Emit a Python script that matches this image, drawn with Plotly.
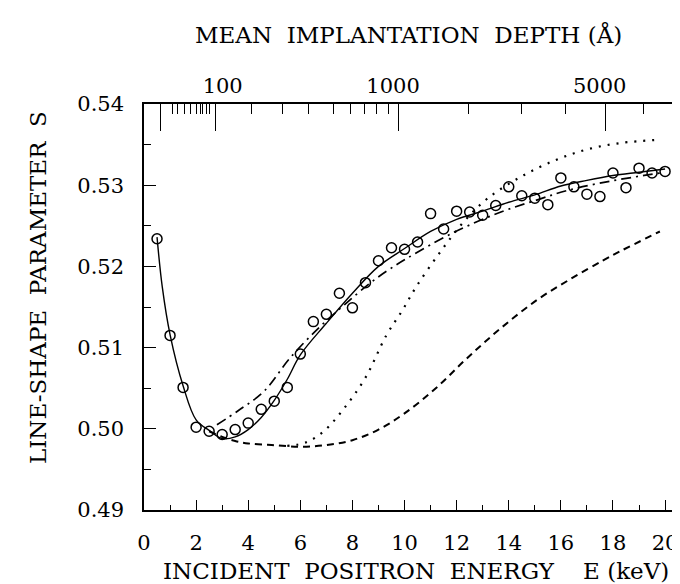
import plotly.graph_objects as go

# ---- data ----
meas_E = [0.5, 1.0, 1.5, 2.0, 2.5, 3.0, 3.5, 4.0, 4.5, 5.0, 5.5, 6.0, 6.5, 7.0, 7.5, 8.0,
          8.5, 9.0, 9.5, 10.0, 10.5, 11.0, 11.5, 12.0, 12.5, 13.0, 13.5, 14.0, 14.5, 15.0,
          15.5, 16.0, 16.5, 17.0, 17.5, 18.0, 18.5, 19.0, 19.5, 20.0]
meas_S = [0.5234, 0.5115, 0.5051, 0.5002, 0.4997, 0.4993, 0.4999, 0.5007, 0.5024, 0.5034,
          0.5051, 0.5092, 0.5132, 0.5141, 0.5167, 0.5149, 0.5180, 0.5207, 0.5223, 0.5221,
          0.5230, 0.5265, 0.5246, 0.5268, 0.5267, 0.5263, 0.5275, 0.5298, 0.5287, 0.5284,
          0.5276, 0.5309, 0.5298, 0.5289, 0.5286, 0.5315, 0.5297, 0.5321, 0.5315, 0.5317]

fit_E = [0.5, 0.7, 1.0, 1.5, 2.0, 2.5, 3.0, 3.5, 4.0, 4.5, 5.0, 5.5, 6.0, 7.0, 8.0, 9.0,
         10.0, 11.0, 12.0, 13.0, 14.0, 15.0, 16.0, 17.0, 18.0, 19.0, 20.0]
fit_S = [0.5236, 0.5175, 0.5116, 0.5053, 0.5011, 0.4998, 0.4988, 0.4990, 0.4999, 0.5014,
         0.5035, 0.5061, 0.5091, 0.5130, 0.5167, 0.5200, 0.5222, 0.5243, 0.5258, 0.5268,
         0.5279, 0.5288, 0.5299, 0.5306, 0.5312, 0.5316, 0.5320]

dashdot_E = [2.8, 3.6, 4.6, 5.6, 6.7, 7.7, 8.7, 9.4, 10.1, 11.9, 13.7, 15.1, 16.3, 17.9, 19.2, 19.8]
dashdot_S = [0.5005, 0.5022, 0.5046, 0.5087, 0.5124, 0.5153, 0.5180, 0.5196, 0.5210, 0.5242,
             0.5267, 0.5282, 0.5294, 0.5305, 0.5312, 0.5315]

dashed_E = [2.5, 3.0, 3.5, 4.0, 4.9, 6.0, 7.0, 8.0, 9.0, 10.0, 11.2, 12.4, 13.7, 15.1, 16.4,
            17.6, 18.3, 19.8]
dashed_S = [0.4997, 0.4990, 0.4985, 0.4982, 0.4980, 0.4978, 0.4980, 0.4986, 0.4999, 0.5019,
            0.5050, 0.5087, 0.5124, 0.5159, 0.5185, 0.5207, 0.5219, 0.5243]

dotted_E = [5.5, 6.2, 6.9, 7.7, 8.5, 9.3, 9.9, 10.45, 11.4, 12.3, 13.2, 14.5, 15.8, 17.0, 18.3, 19.8]
dotted_S = [0.4979, 0.4983, 0.4997, 0.5026, 0.5063, 0.5115, 0.5145, 0.5175, 0.5219, 0.5256,
            0.5284, 0.5311, 0.5331, 0.5344, 0.5352, 0.5356]

# top axis (mean implantation depth) tick positions, expressed in keV on the bottom scale
top_long_E = [0.65, 2.73, 9.75, 17.7]
top_short_E = [1.11, 1.27, 1.57, 1.77, 2.0, 2.15, 2.26, 2.38, 2.53, 4.11, 5.3, 6.33, 7.26,
               7.91, 8.48, 8.94, 9.37, 12.44, 14.47, 16.16, 19.16]
top_label_text = ["100", "1000", "5000"]
top_label_E = [3.02, 9.56, 17.49]

y_ticks = [0.49, 0.50, 0.51, 0.52, 0.53, 0.54]

X_RANGE = [0, 20.88]
Y_RANGE = [0.49, 0.54]
FONT = "DejaVu Serif"

fig = go.Figure()

common = dict(mode="lines", showlegend=False, hoverinfo="skip", line_shape="spline")
fig.add_trace(go.Scatter(x=fit_E, y=fit_S, line=dict(color="black", width=1.4), **common))
fig.add_trace(go.Scatter(x=dashdot_E, y=dashdot_S,
                         line=dict(color="black", width=1.7, dash="10px,5px,2px,5px"), **common))
fig.add_trace(go.Scatter(x=dashed_E, y=dashed_S,
                         line=dict(color="black", width=2.0, dash="7px,5px"), **common))
fig.add_trace(go.Scatter(x=dotted_E, y=dotted_S,
                         line=dict(color="black", width=2.2, dash="2px,7px"), **common))
fig.add_trace(go.Scatter(x=meas_E, y=meas_S, mode="markers", showlegend=False,
                         marker=dict(symbol="circle-open", size=10, color="black",
                                     line=dict(width=1.5, color="black"))))

# dummy traces so the overlaying top axes are drawn
for ax in ["x2", "x3", "x4"]:
    fig.add_trace(go.Scatter(x=[None], y=[None], xaxis=ax, yaxis="y",
                             showlegend=False, hoverinfo="skip"))

tickfont = dict(family=FONT, size=21, color="black")
titlefont = dict(family=FONT, size=23, color="black")

fig.update_layout(
    width=680, height=584,
    margin=dict(l=136, r=0, t=96, b=82),
    paper_bgcolor="white", plot_bgcolor="white",
    xaxis=dict(range=X_RANGE, showgrid=False, zeroline=False, showline=True,
               linecolor="black", linewidth=1.5, ticks="inside", ticklen=10,
               tickwidth=1.3, tickcolor="black", dtick=2, tick0=0,
               tickfont=tickfont, ticklabelstandoff=13,
               minor=dict(dtick=1, ticks="inside", ticklen=5, tickwidth=1.2,
                          tickcolor="black", showgrid=False)),
    yaxis=dict(range=Y_RANGE, showgrid=False, zeroline=False, showline=True,
               linecolor="black", linewidth=1.5, ticks="inside", ticklen=12,
               tickwidth=1.3, tickcolor="black", tickvals=y_ticks, tickformat=".2f",
               tickfont=tickfont, ticklabelstandoff=14,
               minor=dict(dtick=0.005, ticks="inside", ticklen=7, tickwidth=1.2,
                          tickcolor="black", showgrid=False)),
    xaxis2=dict(range=X_RANGE, overlaying="x", side="top", anchor="y",
                showgrid=False, zeroline=False, showline=True, linecolor="black",
                linewidth=2, ticks="inside", ticklen=27, tickwidth=1.4,
                tickcolor="black", tickvals=top_long_E, showticklabels=False),
    xaxis3=dict(range=X_RANGE, overlaying="x", side="top", anchor="y",
                showgrid=False, zeroline=False, showline=False,
                ticks="inside", ticklen=10, tickwidth=1.2, tickcolor="black",
                tickvals=top_short_E, showticklabels=False),
    xaxis4=dict(range=X_RANGE, overlaying="x", side="top", anchor="y",
                showgrid=False, zeroline=False, showline=False, ticks="",
                tickvals=top_label_E, ticktext=top_label_text,
                tickfont=tickfont, ticklabelstandoff=6),
)

fig.add_annotation(text="MEAN\u00a0\u00a0IMPLANTATION\u00a0\u00a0DEPTH\u00a0(Å)",
                   xref="paper", yref="paper", x=(400 - 136) / 544, y=(502 - 27) / 406,
                   xanchor="center", yanchor="middle", showarrow=False, font=titlefont)
fig.add_annotation(text="INCIDENT\u00a0\u00a0POSITRON\u00a0\u00a0ENERGY\u00a0\u00a0\u00a0\u00a0E\u00a0(keV)",
                   xref="paper", yref="paper", x=(407.5 - 136) / 544, y=(502 - 563) / 406,
                   xanchor="center", yanchor="middle", showarrow=False, font=titlefont)
fig.add_annotation(text="LINE-SHAPE\u00a0\u00a0PARAMETER\u00a0\u00a0S",
                   xref="paper", yref="paper", x=(30 - 136) / 544, y=(502 - 280) / 406,
                   textangle=-90, xanchor="center", yanchor="middle", showarrow=False,
                   font=titlefont)

fig.write_html("out.html")
